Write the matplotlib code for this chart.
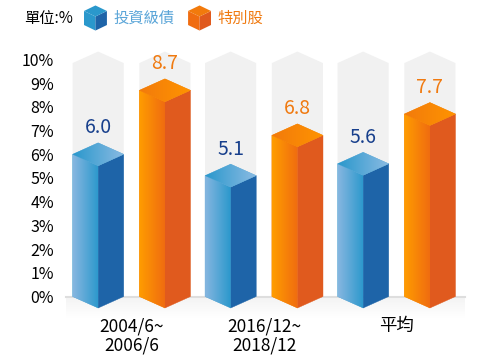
import matplotlib
matplotlib.use('Agg')
import matplotlib.pyplot as plt
import numpy as np
from matplotlib.patches import Polygon
from matplotlib.colors import LinearSegmentedColormap
from matplotlib.legend_handler import HandlerBase
from matplotlib.patches import Patch

plt.rcParams['font.family'] = ['Noto Sans CJK TC', 'DejaVu Sans']

categories = ['2004/6~\n2006/6', '2016/12~\n2018/12', '平均']
series_names = ['投資級債', '特別股']
invest_grade = [6.0, 5.1, 5.6]
preferred = [8.7, 6.8, 7.7]
yticks = list(range(0, 11))

BAR_HALF = 0.193      # half width of a bar (group units)
OFFSET = 0.252        # distance of bar centre from group centre
DEPTH = 0.485         # isometric depth of the top face (% units)
COL_TOP = 9.85        # height of the grey background column

BLUE = dict(left=('#86b6e0', '#2a98cc'), right='#1e64a8', top=('#2a98cc', '#8cbbe3'),
            label='#173f8c', legend='#5aa5d8')
ORANGE = dict(left=('#ff9d00', '#f06c10'), right='#e05a1e', top=('#f27a0c', '#ff9400'),
              label='#f07a10', legend='#f07a10')


def gradient_poly(ax, verts, c0, c1, z):
    xs = [v[0] for v in verts]
    ys = [v[1] for v in verts]
    mid = LinearSegmentedColormap.from_list('g', [c0, c1])(0.5)
    base = Polygon(verts, closed=True, facecolor=mid, edgecolor=mid, lw=0.3, zorder=z)
    ax.add_patch(base)
    cmap = LinearSegmentedColormap.from_list('g', [c0, c1])
    grad = np.linspace(0, 1, 128).reshape(1, -1)
    im = ax.imshow(grad, cmap=cmap, extent=(min(xs), max(xs), min(ys), max(ys)),
                   aspect='auto', origin='lower', interpolation='bilinear', zorder=z + 0.1)
    im.set_clip_path(base)


def draw_bar(ax, xc, v, sty):
    xl, xr = xc - BAR_HALF, xc + BAR_HALF
    d = DEPTH
    gradient_poly(ax, [(xl, 0), (xc, -d), (xc, v - d), (xl, v)], sty['left'][0], sty['left'][1], 3)
    ax.add_patch(Polygon([(xc, -d), (xr, 0), (xr, v), (xc, v - d)], closed=True,
                         facecolor=sty['right'], edgecolor=sty['right'], lw=0.3, zorder=3))
    gradient_poly(ax, [(xl, v), (xc, v - d), (xr, v), (xc, v + d)], sty['top'][0], sty['top'][1], 4)
    ax.annotate(f'{v:.1f}', (xc, v), xytext=(0, 19), textcoords='offset points',
                ha='center', va='center', fontsize=14, color=sty['label'], zorder=6)


def draw_column(ax, xc):
    xl, xr = xc - BAR_HALF, xc + BAR_HALF
    ax.add_patch(Polygon([(xl, 0), (xl, COL_TOP), (xc, COL_TOP + DEPTH), (xr, COL_TOP), (xr, 0)],
                         closed=True, facecolor='#f1f1f1', edgecolor='none', zorder=1))


class CubeHandler(HandlerBase):
    def __init__(self, sty):
        super().__init__()
        self.sty = sty

    def create_artists(self, legend, orig_handle, xdescent, ydescent, width, height, fontsize, trans):
        w, h = width, height
        c = w / 2
        d = h * 0.22
        x0, y0 = -xdescent, -ydescent
        top = Polygon([(x0, y0 + h - d), (x0 + c, y0 + h - 2 * d), (x0 + w, y0 + h - d), (x0 + c, y0 + h)],
                      closed=True, facecolor=self.sty['top'][0], edgecolor='none', transform=trans)
        left = Polygon([(x0, y0 + d), (x0 + c, y0), (x0 + c, y0 + h - 2 * d), (x0, y0 + h - d)],
                       closed=True, facecolor=self.sty['left'][1], edgecolor='none', transform=trans)
        right = Polygon([(x0 + c, y0), (x0 + w, y0 + d), (x0 + w, y0 + h - d), (x0 + c, y0 + h - 2 * d)],
                        closed=True, facecolor=self.sty['right'], edgecolor='none', transform=trans)
        return [left, right, top]


fig = plt.figure(figsize=(5, 3.6), dpi=100)
ax = fig.add_axes([58 / 500, 0, 442 / 500, 1])

groups = np.arange(len(categories))
for g in groups:
    draw_column(ax, g - OFFSET)
    draw_column(ax, g + OFFSET)
    draw_bar(ax, g - OFFSET, invest_grade[g], BLUE)
    draw_bar(ax, g + OFFSET, preferred[g], ORANGE)
    ax.annotate(categories[g], (g, 0), xytext=(0, -15), textcoords='offset points',
                ha='center', va='top', fontsize=12.5, linespacing=1.1)

# baseline and soft floor shadow
ax.plot([-0.494, 2.517], [0, 0], color='#dedede', lw=1.5, zorder=2)
shade = LinearSegmentedColormap.from_list('s', ['#ffffff', '#f3f3f3'])
ax.imshow(np.linspace(0, 1, 64).reshape(-1, 1), cmap=shade, extent=(-0.494, 2.517, -0.9, 0),
          aspect='auto', origin='lower', interpolation='bilinear', zorder=0.5)

ax.set_xlim(-0.555, 2.781)
ax.set_ylim(-2.679, 12.51)
ax.set_yticks(yticks)
ax.set_yticklabels([f'{t}%' for t in yticks], fontsize=11.5)
ax.tick_params(axis='y', length=0, pad=3)
ax.set_xticks([])
for s in ax.spines.values():
    s.set_visible(False)
ax.patch.set_alpha(0)

fig.text(24 / 500, 1 - 18 / 360, '單位:%', ha='left', va='center', fontsize=11)
handles = [Patch(label=series_names[0]), Patch(label=series_names[1])]
leg = fig.legend(handles=handles, loc='center left', bbox_to_anchor=(84 / 500, 1 - 18 / 360),
                 ncol=2, frameon=False, fontsize=11, borderpad=0, borderaxespad=0,
                 handlelength=1.5, handleheight=2.15, handletextpad=0.45, columnspacing=0.87,
                 labelcolor=[BLUE['legend'], ORANGE['legend']],
                 handler_map={handles[0]: CubeHandler(BLUE), handles[1]: CubeHandler(ORANGE)})

fig.savefig('out.png', dpi=100)
